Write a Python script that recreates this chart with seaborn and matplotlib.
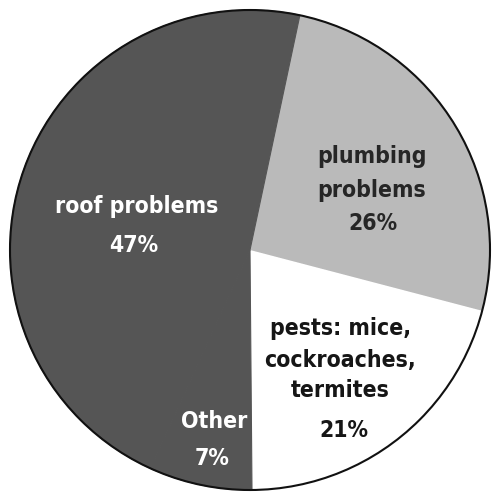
import matplotlib
matplotlib.use("Agg")
import matplotlib.pyplot as plt
import seaborn as sns

sns.set_style("white")
plt.rcParams['font.family'] = ['DejaVu Sans']

categories = ["plumbing problems", "pests: mice, cockroaches, termites", "Other", "roof problems"]
values = [26, 21, 7, 47]
label_lines = [["plumbing", "problems", "26%"],
               ["pests: mice,", "cockroaches,", "termites", "21%"],
               ["Other", "7%"],
               ["roof problems", "47%"]]

colors = ["#bababa", "#ffffff", "#555555", "#555555"]
text_colors = ["#262626", "#161616", "#ffffff", "#ffffff"]

fig = plt.figure(figsize=(4.92, 4.92), dpi=100)
ax = fig.add_axes([0, 0, 1, 1])

wedges, _ = ax.pie(values, colors=colors, startangle=78, counterclock=False,
                   radius=1.0, center=(0, 0),
                   wedgeprops=dict(linewidth=0))
for w, c in zip(wedges, colors):
    if c != "#ffffff":
        w.set_edgecolor(c)
        w.set_linewidth(0.8)
outline = plt.Circle((0, 0), 1.0, fill=False, edgecolor="#111111", linewidth=1.5)
ax.add_patch(outline)

def px(x, y):
    return ((x - 250) / 240.0, (250 - y) / 240.0)

# baseline pixel positions for each label line
line_pos = [[(372, 163), (372, 197), (373, 230)],
            [(341, 335), (340, 367), (340, 397), (344, 437)],
            [(214, 428), (212, 465)],
            [(137, 213), (134, 252)]]
for lines, pos, c in zip(label_lines, line_pos, text_colors):
    for t, (x, y) in zip(lines, pos):
        dx, dy = px(x, y)
        ax.text(dx, dy, t, ha="center", va="baseline", color=c, fontsize=16.5,
                fontweight="bold", fontstretch="condensed")

ax.set_xlim(-250 / 240, 242 / 240)
ax.set_ylim(-242 / 240, 250 / 240)
ax.set_aspect("equal")
ax.axis("off")
fig.savefig("out.png", dpi=100, facecolor="white")
